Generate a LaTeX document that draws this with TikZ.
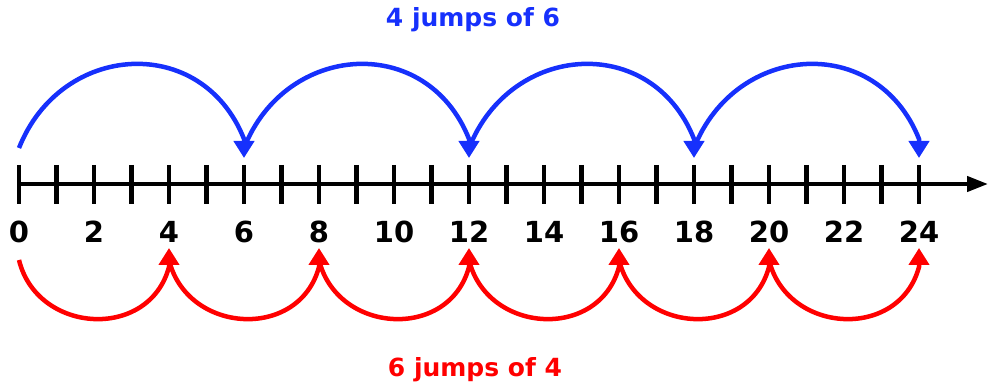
\documentclass[tikz,border=0pt]{standalone}
\usepackage{fontspec}
\setmainfont{DejaVu Sans}
\usetikzlibrary{arrows.meta}
\definecolor{jblue}{RGB}{22,48,252}
\definecolor{jred}{RGB}{255,0,0}
\begin{document}
\begin{tikzpicture}[x=1pt,y=-1pt,
  axisline/.style={line width=4.2pt,black,-{Triangle[width=15pt,length=21pt]}},
  tickline/.style={line width=4.2pt,black},
  numlabel/.style={font=\fontsize{29}{29}\selectfont\bfseries,inner sep=0pt},
  titlelabel/.style={font=\fontsize{25}{25}\selectfont\bfseries,inner sep=0pt,anchor=base},
  bluejump/.style={line width=4.5pt,jblue,-{Triangle[width=20pt,length=17pt]}},
  redjump/.style={line width=4.5pt,jred,-{Triangle[width=20pt,length=17pt]}}]
\useasboundingbox (0,0) rectangle (989,387);
% axis
\coordinate (axstart) at (19,184);
\coordinate (axend) at (988,184);
\draw[axisline] (axstart) -- (axend);
\foreach \i in {0,...,24}{
  \coordinate (t\i) at ({19+37.5*\i},184);
  \draw[tickline] ([yshift=19pt]t\i) -- ([yshift=-20pt]t\i);
}
% number labels
\foreach \i in {0,2,...,24}{
  \node[numlabel] (n\i) at ({19+37.5*\i},232) {\i};
}
% blue jumps of 6
\foreach \k in {0,1,2,3}{
  \coordinate (bs\k) at ({19+225*\k},148);
  \coordinate (bb\k) at ({244+225*\k},139);
  \coordinate (bt\k) at ({244+225*\k},158);
  \draw[bluejump] (bs\k) .. controls +(42,-106) and +(-42,-106) .. (bb\k) -- (bt\k);
}
% red jumps of 4
\foreach \k in {0,...,5}{
  \coordinate (rs\k) at ({19+150*\k},260);
  \coordinate (rb\k) at ({169+150*\k},267);
  \coordinate (rt\k) at ({169+150*\k},248);
  \draw[redjump] (rs\k) .. controls +(18,74) and +(-20,74) .. (rb\k) -- (rt\k);
}
% titles
\node[titlelabel,text=jblue] (tblue) at (473,27) {4 jumps of 6};
\node[titlelabel,text=jred] (tred) at (475,377) {6 jumps of 4};
\end{tikzpicture}
\end{document}
